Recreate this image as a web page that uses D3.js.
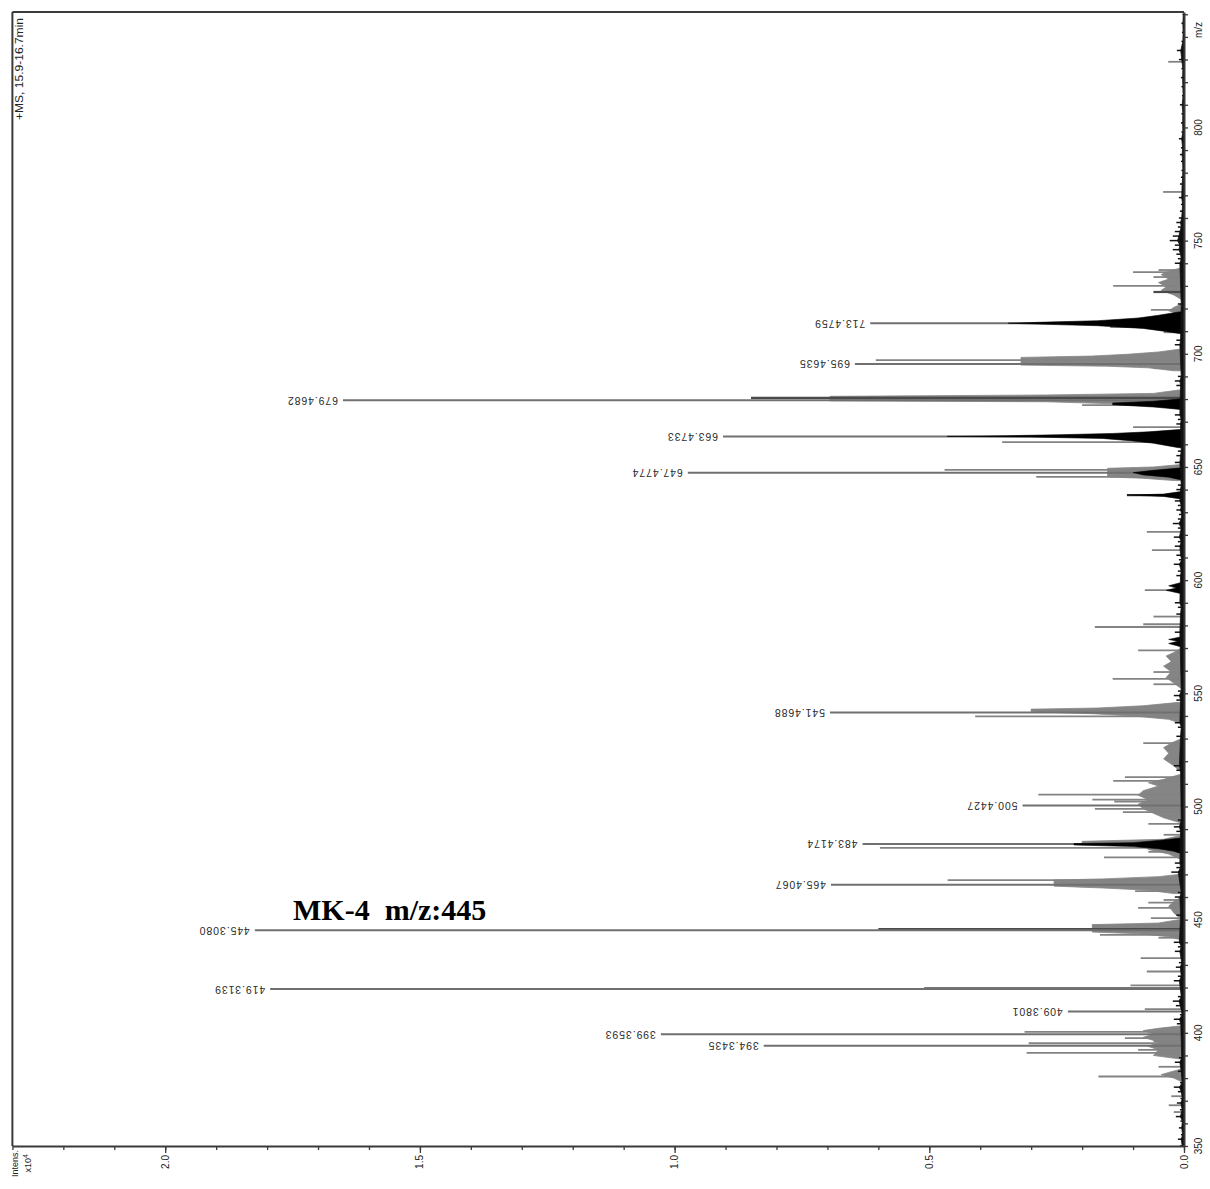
<!DOCTYPE html>
<html><head><meta charset="utf-8">
<script src="https://cdn.jsdelivr.net/npm/d3@7"></script>
<style>
html,body{margin:0;padding:0;background:#fff;}
svg{display:block;}
text{font-family:"Liberation Sans",Arial,sans-serif;}
</style></head>
<body>
<svg id="chart" width="1210" height="1189"></svg>
<script>
// ---- data (m/z, intensity x10^4) ----
const mzTickLabels = [350,400,450,500,550,600,650,700,750,800];
const intTickLabels = [0.0,0.5,1.0,1.5,2.0];
const labeledPeaks = [
  [394.3435,0.825,"394.3435"],[399.3593,1.027,"399.3593"],[409.3801,0.228,"409.3801"],
  [419.3139,1.794,"419.3139"],[445.3080,1.824,"445.3080"],[465.4067,0.693,"465.4067"],
  [483.4174,0.631,"483.4174"],[500.4427,0.317,"500.4427"],[541.4688,0.695,"541.4688"],
  [647.4774,0.974,"647.4774"],[663.4733,0.905,"663.4733"],[679.4682,1.651,"679.4682"],
  [695.4635,0.646,"695.4635"],[713.4759,0.616,"713.4759"]
];
const greySticks = [
  [829,0.031],[771.5,0.041],[737,0.05],[736.1,0.10],[733.9,0.06],[730.0,0.139],[719.4,0.065],
  [711.8,0.145],[709.5,0.04],[697.2,0.605],[693.7,0.06],[677.3,0.2],[667.6,0.1],[661.0,0.357],
  [648.7,0.47],[645.6,0.29],[621.3,0.073],[613.3,0.063],[595.6,0.077],[583.9,0.06],[580.5,0.08],
  [579.3,0.175],[569,0.09],[559.4,0.06],[556.4,0.14],[554,0.06],[542.6,0.30],[539.8,0.41],
  [528,0.08],[513,0.116],[511.3,0.139],[505.2,0.286],[503,0.18],[502.2,0.137],[498.9,0.175],
  [497.5,0.12],[492.3,0.07],[487.5,0.04],[481.7,0.597],[479.9,0.07],[477.5,0.157],[467.5,0.464],
  [464,0.1],[462.6,0.096],[458.7,0.04],[457.5,0.07],[455.2,0.09],[450.7,0.065],[447.5,0.18],
  [443.3,0.165],[442,0.05],[433,0.085],[427.1,0.073],[421,0.105],[410.5,0.077],[400.4,0.313],
  [397.7,0.116],[396.3,0.06],[395.4,0.305],[392.5,0.09],[391.1,0.309],[385,0.05],[380.7,0.168],
  [372,0.025],[368,0.03],[365,0.02]
];
const darkSticks = [[680.5,0.85],[445.8,0.6],[419.6,0.51],[727.3,0.06],[637.6,0.112]];
const greyProfiles = [
  [[738,0.005],[736.5,0.03],[735,0.045],[733,0.03],[731.5,0.05],[729.5,0.035],[728,0.045],[726,0.02],[724,0.005]],
  [[722,0.005],[720.5,0.02],[719,0.03],[717.5,0.01]],
  [[702,0.01],[700.8,0.05],[699.8,0.11],[699.0,0.18],[698.4,0.32],[697.6,0.32],[696,0.32],[695.0,0.32],[694.5,0.15],[693.8,0.07],[692.5,0.02]],
  [[684,0.01],[682.5,0.06],[681.8,0.27],[681.2,0.695],[679.2,0.695],[678.8,0.27],[677.8,0.12],[676.5,0.04],[675.5,0.01]],
  [[651,0.01],[650,0.06],[649.4,0.15],[645.6,0.15],[645,0.08],[644,0.02]],
  [[570,0.005],[568,0.02],[566.5,0.035],[564,0.025],[562,0.04],[559.5,0.025],[557,0.035],[554.5,0.02],[552,0.005]],
  [[546,0.01],[544.5,0.08],[543.5,0.17],[543,0.30],[541.8,0.30],[541,0.18],[540,0.1],[538.5,0.03],[537,0.01]],
  [[530,0.005],[528,0.025],[526,0.04],[523.5,0.03],[521,0.04],[518,0.02],[515,0.005]],
  [[514,0.01],[512,0.04],[510.5,0.07],[509,0.05],[507,0.08],[505,0.09],[503,0.07],[501,0.09],[499,0.08],[497,0.06],[495,0.04],[493,0.01]],
  [[487,0.01],[485.5,0.04],[484.6,0.2],[483.9,0.2],[483,0.08],[481,0.07],[479,0.03],[477,0.01]],
  [[470,0.01],[469,0.05],[468,0.16],[467.5,0.255],[464.8,0.255],[464,0.16],[463,0.07],[461.5,0.02]],
  [[460,0.005],[458,0.02],[456,0.03],[453,0.02],[451,0.01]],
  [[450,0.01],[448.5,0.05],[447.8,0.18],[444.5,0.18],[443.8,0.09],[442.5,0.03],[441,0.005]],
  [[403,0.01],[402,0.05],[401,0.08],[399.5,0.06],[398,0.08],[396,0.05],[394,0.07],[392.5,0.05],[390,0.06],[388.5,0.01]],
  [[384,0.005],[382.5,0.03],[381.5,0.045],[380,0.02],[378.5,0.005]]
];
const blackProfiles = [
  [[718.5,0.01],[717,0.05],[715.8,0.09],[714.6,0.17],[714,0.27],[713.5,0.345],[713.0,0.27],[712.4,0.17],[711.2,0.08],[710,0.04],[709,0.01]],
  [[680,0.01],[679,0.06],[678.3,0.14],[677.5,0.14],[676.5,0.06],[675.5,0.01]],
  [[666.5,0.01],[665.5,0.07],[664.8,0.14],[664.2,0.25],[663.8,0.35],[663.5,0.465],[663.2,0.3],[662.6,0.16],[661.5,0.1],[660.5,0.06],[659.3,0.03],[658.5,0.01]],
  [[649.5,0.01],[648.5,0.06],[647.5,0.1],[646.5,0.08],[645.5,0.03],[644.5,0.01]],
  [[639,0.01],[638,0.04],[637.6,0.112],[637,0.04],[636,0.01]],
  [[486,0.01],[485,0.05],[484,0.1],[483.6,0.216],[483,0.216],[482.3,0.1],[481.3,0.05],[480.2,0.02],[479.5,0.01]],
  [[599,0.005],[597.5,0.03],[596.5,0.015],[595.5,0.035],[594,0.005]],
  [[575,0.005],[573.8,0.03],[573,0.012],[572,0.03],[570.5,0.005]]
];
const noiseSticks = [
  [350,0.008],[353,0.012],[355,0.006],[358,0.01],[361,0.007],[363,0.016],[366,0.008],[369,0.014],[371,0.007],
  [374,0.012],[376,0.02],[378,0.008],[383,0.012],[387,0.018],[389,0.01],[404,0.014],[406,0.02],[408,0.008],
  [412,0.016],[414,0.022],[416,0.012],[423,0.02],[425,0.012],[429,0.016],[431,0.01],[436,0.018],[438,0.012],
  [440,0.02],[452,0.015],[460,0.018],[462,0.012],[471,0.025],[473,0.015],[475,0.018],[489,0.015],[491,0.02],
  [494,0.012],[516,0.015],[518,0.02],[531,0.015],[535,0.012],[537,0.018],[547,0.015],[549,0.02],[551,0.012],
  [577,0.018],[585,0.015],[588,0.012],[590,0.018],[602,0.015],[604,0.012],[607,0.02],[609,0.01],[611,0.015],
  [615,0.018],[617,0.012],[619,0.02],[623,0.012],[625,0.022],[627,0.012],[629,0.01],[631,0.015],[633,0.012],
  [635,0.018],[640,0.015],[642,0.012],[652,0.018],[655,0.015],[657,0.012],[669,0.015],[671,0.012],[673,0.018],
  [686,0.015],[688,0.018],[690,0.012],[704,0.018],[706,0.015],[722,0.012],[740,0.018],[742,0.012],[744,0.015],
  [746,0.022],[748,0.018],[750,0.028],[752,0.022],[754,0.018],[756,0.012],[758,0.015],[760,0.01],[763,0.008],
  [766,0.006],[769,0.01],[775,0.008],[778,0.006],[781,0.005],[785,0.006],[788,0.008],[791,0.006],[795,0.01],
  [798,0.005],[802,0.006],[806,0.005],[810,0.008],[814,0.004],[818,0.005],[822,0.006],[826,0.005],[830,0.01],
  [834,0.014],[838,0.005],[842,0.004],[846,0.005],[850,0.003]
];
const annotation = "MK-4  m/z:445";
const runLabel = "+MS, 15.9-16.7min";

// ---- scales ----
const svg = d3.select("#chart");
const y = d3.scaleLinear().domain([350, 851]).range([1146, 12]);
const x = d3.scaleLinear().domain([0, 2.3]).range([1184, 12.4]);
const x0 = x(0);

const area = d3.area().y(d => y(d[0])).x0(x0).x1(d => x(d[1]));
const gData = svg.append("g");

gData.selectAll("path.gp").data(greyProfiles).join("path")
  .attr("class","gp").attr("d", area).attr("fill","#858585").attr("stroke","#858585").attr("stroke-width",0.8);

gData.selectAll("line.gs").data(greySticks).join("line")
  .attr("x1", x0).attr("x2", d => x(d[1])).attr("y1", d => y(d[0])).attr("y2", d => y(d[0]))
  .attr("stroke","#838383").attr("stroke-width",1.8);

gData.selectAll("line.ds").data(darkSticks).join("line")
  .attr("x1", x0).attr("x2", d => x(d[1])).attr("y1", d => y(d[0])).attr("y2", d => y(d[0]))
  .attr("stroke","#4a4a4a").attr("stroke-width",2.2);

gData.selectAll("line.lp").data(labeledPeaks).join("line")
  .attr("x1", x0).attr("x2", d => x(d[1])).attr("y1", d => y(d[0])).attr("y2", d => y(d[0]))
  .attr("stroke","#707070").attr("stroke-width",2);

gData.selectAll("path.bp").data(blackProfiles).join("path")
  .attr("d", area).attr("fill","#000").attr("stroke","#000").attr("stroke-width",0.6);

// baseline noise: continuous jagged fuzz plus spikes
gData.append("path").datum(noiseSticks)
  .attr("d", d3.area().y(d => y(d[0])).x0(x0).x1(d => x(d[1] * 0.45)))
  .attr("fill","#111").attr("stroke","#111").attr("stroke-width",0.8);
gData.selectAll("line.ns").data(noiseSticks).join("line")
  .attr("x1", x0).attr("x2", d => x(d[1])).attr("y1", d => y(d[0])).attr("y2", d => y(d[0]))
  .attr("stroke","#111").attr("stroke-width",1.5);

// peak labels (upside-down)
svg.append("g").selectAll("text").data(labeledPeaks).join("text")
  .attr("transform", d => `translate(${x(d[1]) - 5},${y(d[0]) - 3.6}) rotate(180)`)
  .attr("font-size", 10.5).attr("letter-spacing", 0.9).attr("fill","#2a2a2a")
  .text(d => d[2]);

// ---- axes ----
const axisColor = "#3a3a3a";
svg.append("line").attr("x1", x(2.3)).attr("x2", x(2.3)).attr("y1", y(851)).attr("y2", y(350)).attr("stroke",axisColor).attr("stroke-width",2);
svg.append("line").attr("x1", x(2.3)).attr("x2", x0).attr("y1", y(851)).attr("y2", y(851)).attr("stroke",axisColor).attr("stroke-width",2);

const minorInt = d3.range(0, 24).map(i => i / 10);
svg.append("g").attr("transform", `translate(0,${y(350)})`)
  .call(d3.axisBottom(x).tickValues(minorInt).tickSize(4).tickSizeOuter(0).tickFormat(""));
svg.append("g").attr("transform", `translate(0,${y(350)})`)
  .call(d3.axisBottom(x).tickValues(intTickLabels).tickSize(7).tickSizeOuter(0).tickFormat(""))
  .select(".domain").remove();
svg.selectAll(".domain").attr("stroke",axisColor).attr("stroke-width",2);
svg.selectAll(".tick line").attr("stroke",axisColor).attr("stroke-width",1.3);

svg.append("g").selectAll("text").data(intTickLabels).join("text")
  .attr("transform", d => `translate(${x(d) + 3.5},${y(350) + 9}) rotate(-90)`)
  .attr("text-anchor","end").attr("font-size",10).attr("fill","#222")
  .text(d => d3.format(".1f")(d));

const minorMz = d3.range(350, 851, 10);
const axR = svg.append("g").attr("transform", `translate(${x0},0)`)
  .call(d3.axisRight(y).tickValues(minorMz).tickSize(4).tickSizeOuter(0).tickFormat(""));
axR.select(".domain").attr("stroke",axisColor).attr("stroke-width",2);
axR.selectAll(".tick line").attr("stroke",axisColor).attr("stroke-width",1.3);

svg.append("g").selectAll("text").data(mzTickLabels).join("text")
  .attr("transform", d => `translate(${x0 + 18},${y(d)}) rotate(-90)`)
  .attr("text-anchor","middle").attr("font-size",10).attr("fill","#222")
  .text(d => d);

svg.append("text").attr("transform", `translate(${x0 + 18},${y(851) + 10}) rotate(-90)`)
  .attr("text-anchor","end").attr("font-size",10).attr("fill","#222").text("m/z");

svg.append("text").attr("transform", `translate(18,1150) rotate(-90)`)
  .attr("text-anchor","end").attr("font-size",9).attr("fill","#222").text("Intens.");
const t2 = svg.append("text").attr("transform", `translate(31,1154) rotate(-90)`)
  .attr("text-anchor","end").attr("font-size",9).attr("fill","#222");
t2.append("tspan").text("x10");
t2.append("tspan").attr("font-size",7).attr("dy",-3).text("4");

svg.append("text").attr("transform", `translate(23,18) rotate(-90)`)
  .attr("text-anchor","end").attr("font-size",10).attr("fill","#222")
  .attr("textLength",102).attr("lengthAdjust","spacingAndGlyphs").text(runLabel);

svg.append("text").attr("x", 293).attr("y", 920)
  .style("font-family","'Liberation Serif','Times New Roman',serif")
  .style("white-space","pre")
  .attr("font-weight","bold").attr("font-size",30).attr("fill","#000")
  .text(annotation);
</script>
</body></html>
